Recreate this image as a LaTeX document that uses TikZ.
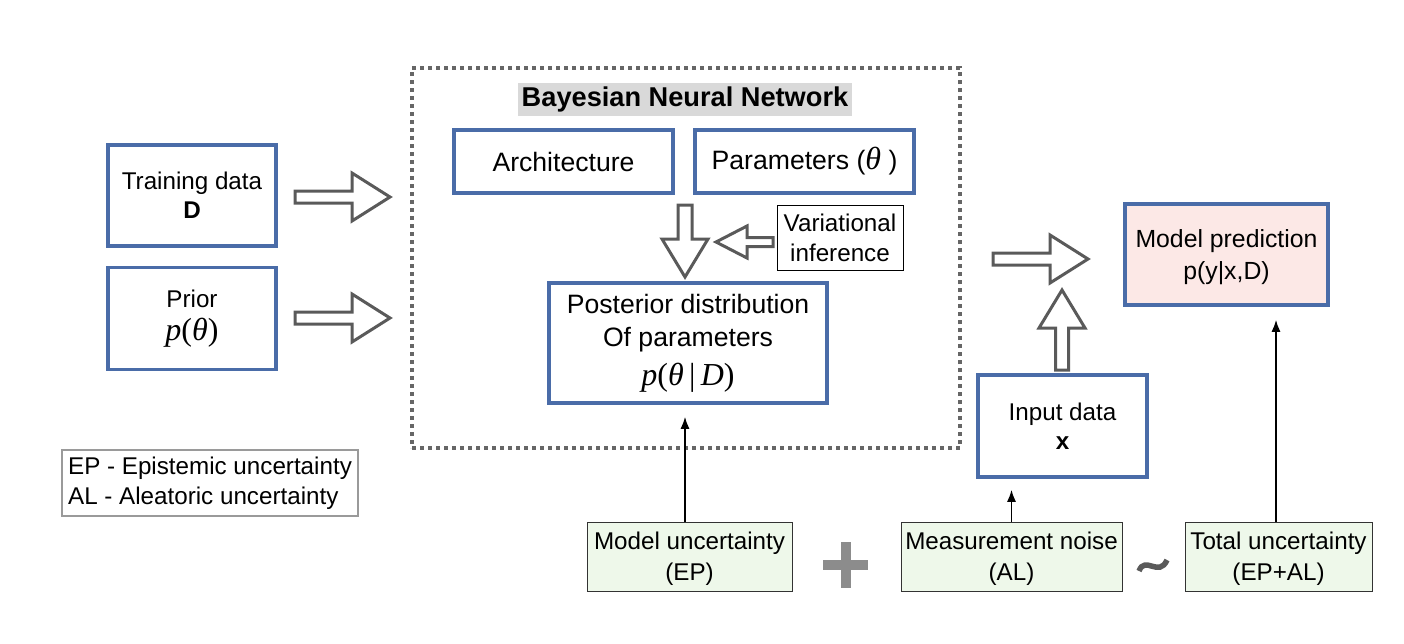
\documentclass[tikz,border=0pt]{standalone}
\usepackage{fontspec}
\setmainfont{Liberation Sans}
\newfontfamily\tms{Liberation Serif}
\usetikzlibrary{arrows.meta,calc}
\definecolor{bblue}{HTML}{4A6CA8}
\definecolor{gfill}{HTML}{EEF8EA}
\definecolor{pfill}{HTML}{FCE8E6}
\definecolor{agray}{HTML}{5A5A5A}
\definecolor{dgray}{HTML}{666666}
\definecolor{tgray}{HTML}{D9D9D9}
\definecolor{lgray}{HTML}{9A9A9A}
\definecolor{pgray}{HTML}{8C8C8C}
\newcommand{\mainfnt}{\fontsize{24.2}{30}\selectfont}
\newcommand{\predfnt}{\fontsize{24.8}{32}\selectfont}
\newcommand{\bigfnt}{\fontsize{26.6}{33}\selectfont}
\newcommand{\mth}{\fontsize{32}{34}\selectfont\tms}
\newcommand{\nd}[1]{\raisebox{0pt}[\height][0pt]{#1}}
\newcommand{\bArrow}[7]{\draw[blockarr,shift={(#1,#2)},rotate=#3] (0,-#6) -- ({#4-#5},-#6) -- ({#4-#5},-#7) -- (#4,0) -- ({#4-#5},#7) -- ({#4-#5},#6) -- (0,#6) -- cycle;}
\tikzset{
  bluebox/.style={draw=bblue, line width=3.5pt, inner sep=0pt, align=center, font=\mainfnt},
  greenbox/.style={draw=black!80, line width=1pt, fill=gfill, inner sep=0pt, align=center, font=\mainfnt, minimum height=69pt},
  blockarr/.style={draw=agray, line width=3pt, fill=white, line join=miter},
  thinarr/.style={line width=1.6pt, -{Latex[length=12pt,width=9pt]}},
}
\begin{document}
\begin{tikzpicture}[x=1pt,y=-1pt]
\useasboundingbox (0,0) rectangle (1404,643);
% dotted BNN frame
\node[draw=dgray, line width=4pt, dash pattern=on 4pt off 4pt, minimum width=548pt, minimum height=380pt, inner sep=0pt] (bnn) at (686,258) {};
\node[fill=tgray, minimum width=334pt, minimum height=33pt, inner sep=0pt, font=\fontsize{27.2}{33}\selectfont\bfseries] (title) at (685,99.5) {Bayesian Neural Network};
% boxes
\node[bluebox, minimum width=168pt, minimum height=101pt] (train) at (192,195.5) {Training data\\[-1pt]\textbf{D}};
\node[bluebox, minimum width=168pt, minimum height=102pt] (prior) at (192,318.5) {Prior\\[3pt]{\mth\itshape p\upshape(\itshape θ\upshape)}};
\node[bluebox, minimum width=219pt, minimum height=63pt, font=\bigfnt] (arch) at (563.5,161.5) {Architecture};
\node[bluebox, minimum width=219pt, minimum height=63pt, font=\bigfnt] (param) at (804.5,161.5) {Parameters ({\mth\itshape θ} )};
\node[draw=black, line width=1pt, minimum width=126pt, minimum height=65pt, inner sep=0pt, align=center, font=\mainfnt] (vi) at (840,237.5) {Variational\\inference};
\node[bluebox, minimum width=278pt, minimum height=120pt, font=\bigfnt] (post) at (688,343) {Posterior distribution\\Of parameters\\[6pt]{\mth\itshape p\upshape(\itshape θ\,\upshape|\,\itshape D\upshape)}};
\node[bluebox, fill=pfill, minimum width=203pt, minimum height=101pt, font=\predfnt] (pred) at (1226.5,254.5) {Model prediction\\\nd{p(y|x,D)}};
\node[bluebox, minimum width=169pt, minimum height=102pt] (input) at (1062.5,426) {Input data\\[-1pt]\textbf{x}};
\node[greenbox, minimum width=205pt] (mu) at (689.5,556.5) {Model uncertainty\\[1pt]\nd{(EP)}};
\node[greenbox, minimum width=221pt] (mn) at (1011.5,556.5) {Measurement noise\\[1pt]\nd{(AL)}};
\node[greenbox, minimum width=187pt] (tu) at (1278.5,556.5) {Total uncertainty\\[1pt]\nd{(EP+AL)}};
\node[draw=lgray, line width=2pt, minimum width=296pt, minimum height=66pt, inner sep=3pt, align=left, font=\mainfnt] (legend) at (210,483) {EP - Epistemic uncertainty\\AL - Aleatoric uncertainty};
% block arrows
\bArrow{295}{197}{0}{95}{38}{6}{24}
\bArrow{295}{318}{0}{95}{38}{6}{24}
\bArrow{685}{205}{-90}{72}{38}{7}{23}
\bArrow{773}{242}{180}{57}{31}{4.5}{16}
\bArrow{993}{259}{0}{95}{38}{6}{24}
\bArrow{1062}{370}{90}{80}{38}{6.5}{23}
% plus and tilde
\fill[pgray] (823,560) rectangle (868,570);
\fill[pgray] (841,542) rectangle (851,588);
\draw[agray, line width=5.5pt] (1139,571) .. controls (1145,555) and (1159,578) .. (1167,560);
% thin arrows
\draw[thinarr, shorten >=12pt] ([xshift=-4.5pt]mu.north) -- ([xshift=-4.5pt]mu.north |- post.south);
\draw[thinarr, shorten >=11pt] (mn.north) -- (mn.north |- input.south);
\draw[thinarr, shorten >=13pt] ([xshift=-2.5pt]tu.north) -- ([xshift=-2.5pt]tu.north |- pred.south);
\end{tikzpicture}
\end{document}
